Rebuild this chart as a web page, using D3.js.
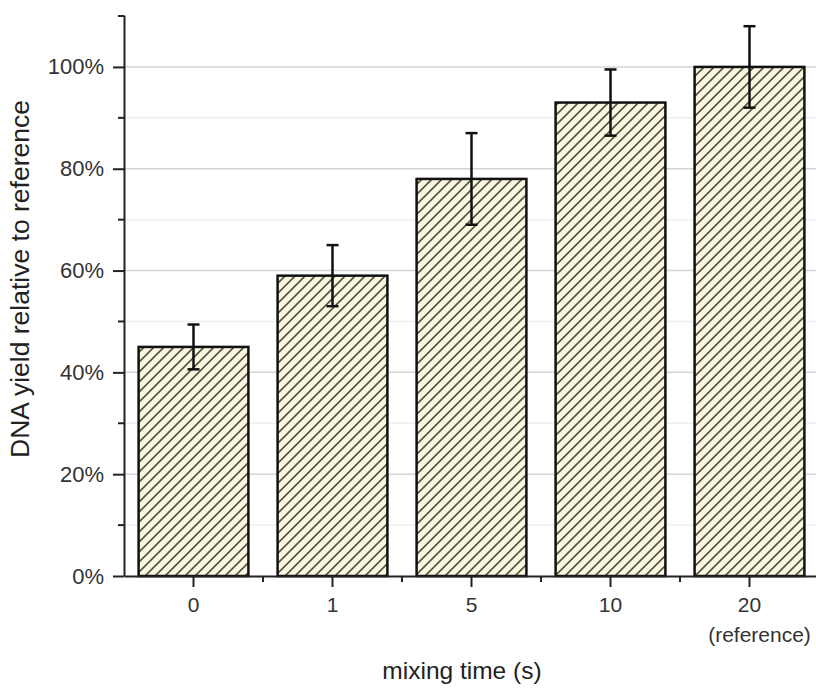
<!DOCTYPE html>
<html>
<head>
<meta charset="utf-8">
<script src="https://cdn.jsdelivr.net/npm/d3@7"></script>
<style>
  body { margin: 0; background: #fff; }
  svg { display: block; font-family: Arial, 'Liberation Sans', sans-serif; }
</style>
</head>
<body>
<div id="chart-container"></div>
<script>
// data
const categories = ['0', '1', '5', '10', '20'];
const subLabels = ['', '', '', '', '(reference)'];
const yieldValues = [45, 59, 78, 93, 100];
const errorValues = [4.4, 6, 9, 6.5, 8];
const yTicks = [0, 20, 40, 60, 80, 100];

// chart dimensions
const svgWidth = 816;
const svgHeight = 691;
const marginLeft = 124;
const marginTop = 15;
const xEnd = 819;
const yZero = 576;

const xScale = d3.scaleBand()
  .domain(categories)
  .range([marginLeft, xEnd])
  .paddingInner(0.21)
  .paddingOuter(0.105);

const yScale = d3.scaleLinear()
  .domain([0, 110.2])
  .range([yZero, marginTop]);

const svg = d3.select('#chart-container')
  .append('svg')
  .attr('width', svgWidth)
  .attr('height', svgHeight)
  .attr('viewBox', [0, 0, svgWidth, svgHeight]);

// hatch pattern
const hatchSize = 7.07;
const defs = svg.append('defs');
const pattern = defs.append('pattern')
  .attr('id', 'hatch')
  .attr('patternUnits', 'userSpaceOnUse')
  .attr('width', hatchSize)
  .attr('height', hatchSize)
  .attr('patternTransform', 'rotate(45)');
pattern.append('rect')
  .attr('width', hatchSize)
  .attr('height', hatchSize)
  .attr('fill', '#f9f7e1');
pattern.append('line')
  .attr('x1', 0).attr('y1', 0)
  .attr('x2', 0).attr('y2', hatchSize)
  .attr('stroke', '#45442c')
  .attr('stroke-width', 3.2);

// gridlines (major + minor)
const gridTicks = d3.range(10, 110, 10);
svg.append('g')
  .selectAll('line')
  .data(gridTicks)
  .join('line')
  .attr('x1', marginLeft)
  .attr('x2', svgWidth)
  .attr('y1', (d) => yScale(d))
  .attr('y2', (d) => yScale(d))
  .attr('stroke', (d) => (d % 20 === 0 ? '#d4d4d4' : '#efefef'))
  .attr('stroke-width', 1.5);

// bars
svg.append('g')
  .selectAll('rect')
  .data(yieldValues)
  .join('rect')
  .attr('x', (d, i) => xScale(categories[i]))
  .attr('y', (d) => yScale(d))
  .attr('width', xScale.bandwidth())
  .attr('height', (d) => yScale(0) - yScale(d))
  .attr('fill', 'url(#hatch)')
  .attr('stroke', '#111')
  .attr('stroke-width', 2.5);

// error bars
const errG = svg.append('g')
  .attr('stroke', '#111')
  .attr('stroke-width', 2.5);
yieldValues.forEach((v, i) => {
  const cx = xScale(categories[i]) + xScale.bandwidth() / 2;
  const hi = yScale(v + errorValues[i]);
  const lo = yScale(v - errorValues[i]);
  errG.append('line').attr('x1', cx).attr('x2', cx).attr('y1', hi).attr('y2', lo);
  errG.append('line').attr('x1', cx - 6).attr('x2', cx + 6).attr('y1', hi).attr('y2', hi);
  errG.append('line').attr('x1', cx - 6).attr('x2', cx + 6).attr('y1', lo).attr('y2', lo);
});

// y axis
const yAxis = svg.append('g')
  .attr('transform', `translate(${marginLeft},0)`)
  .call(d3.axisLeft(yScale)
    .tickValues(yTicks)
    .tickSize(11)
    .tickSizeOuter(0)
    .tickPadding(9)
    .tickFormat((d) => d + '%'));
yAxis.select('.domain').attr('stroke', '#222').attr('stroke-width', 2);
yAxis.selectAll('.tick line').attr('stroke', '#222').attr('stroke-width', 2);
yAxis.selectAll('.tick text')
  .attr('font-size', 22)
  .attr('fill', '#333');

// minor y ticks
svg.append('g')
  .selectAll('line')
  .data([10, 30, 50, 70, 90, 110])
  .join('line')
  .attr('x1', marginLeft - 6)
  .attr('x2', marginLeft)
  .attr('y1', (d) => yScale(d))
  .attr('y2', (d) => yScale(d))
  .attr('stroke', '#222')
  .attr('stroke-width', 2);

// x axis
const xAxis = svg.append('g')
  .attr('transform', `translate(0,${yZero})`)
  .call(d3.axisBottom(xScale)
    .tickSize(11)
    .tickSizeOuter(0)
    .tickPadding(10));
xAxis.select('.domain').attr('stroke', '#222').attr('stroke-width', 2);
xAxis.selectAll('.tick line').attr('stroke', '#222').attr('stroke-width', 2);
xAxis.selectAll('.tick text')
  .attr('font-size', 21)
  .attr('fill', '#333');
xAxis.selectAll('.tick')
  .append('text')
  .attr('x', 10)
  .attr('y', 51)
  .attr('dy', '0.71em')
  .attr('fill', '#333')
  .attr('font-size', 21)
  .text((d, i) => subLabels[i]);

// minor x ticks between categories
const step = xScale.step();
svg.append('g')
  .selectAll('line')
  .data(categories.slice(0, -1))
  .join('line')
  .attr('x1', (d) => xScale(d) + xScale.bandwidth() / 2 + step / 2)
  .attr('x2', (d) => xScale(d) + xScale.bandwidth() / 2 + step / 2)
  .attr('y1', yZero)
  .attr('y2', yZero + 6)
  .attr('stroke', '#222')
  .attr('stroke-width', 2);

// axis titles
svg.append('text')
  .attr('transform', `translate(29,279) rotate(-90)`)
  .attr('text-anchor', 'middle')
  .attr('font-size', 26.5)
  .attr('fill', '#222')
  .text('DNA yield relative to reference');

svg.append('text')
  .attr('x', 462)
  .attr('y', 679)
  .attr('text-anchor', 'middle')
  .attr('font-size', 24.5)
  .attr('fill', '#222')
  .text('mixing time (s)');
</script>
</body>
</html>
